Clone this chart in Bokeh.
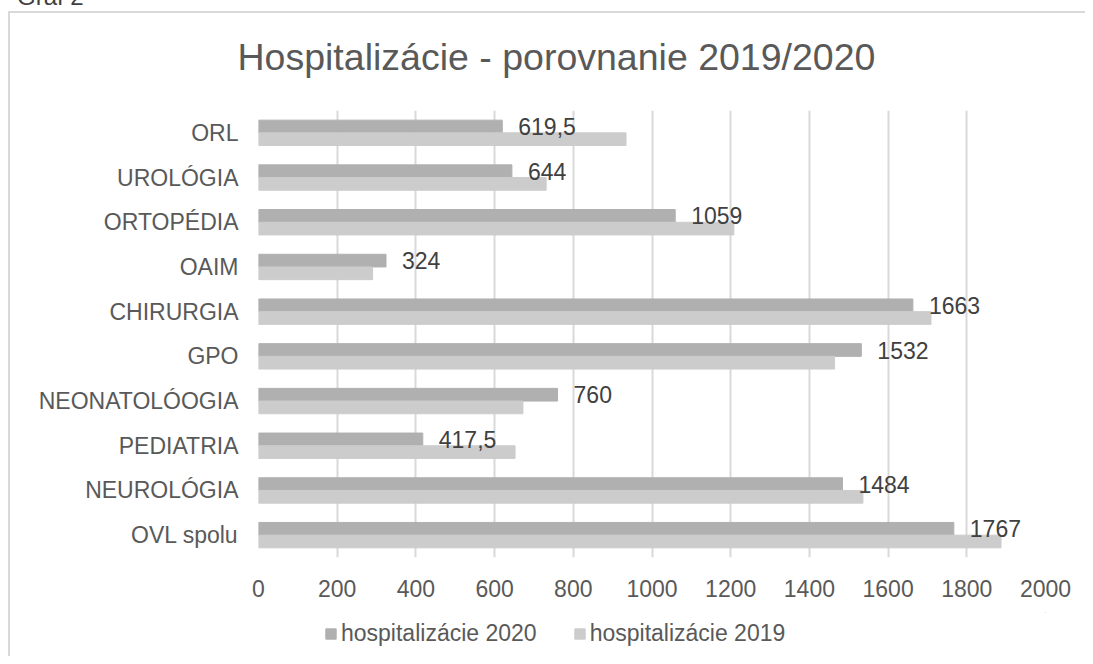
from bokeh.plotting import figure
from bokeh.models import (ColumnDataSource, Range1d, FactorRange, FixedTicker,
                          Legend, LegendItem, Div)
from bokeh.layouts import column
from bokeh.transform import dodge
from bokeh.embed import file_html
from bokeh.resources import INLINE
from bokeh.core.properties import value

# ---- data -------------------------------------------------------------
categories = ["ORL", "UROLÓGIA", "ORTOPÉDIA", "OAIM", "CHIRURGIA", "GPO",
              "NEONATOLÓOGIA", "PEDIATRIA", "NEUROLÓGIA", "OVL spolu"]
hosp_2020 = [619.5, 644, 1059, 324, 1663, 1532, 760, 417.5, 1484, 1767]
hosp_2019 = [934, 731, 1208, 290, 1709, 1464, 672, 652, 1536, 1887]
x_ticks = [0, 200, 400, 600, 800, 1000, 1200, 1400, 1600, 1800, 2000]
series_names = ["hospitalizácie 2020", "hospitalizácie 2019"]
title_text = "Hospitalizácie - porovnanie 2019/2020"
caption_text = "Graf 2"

FONT = "Liberation Sans"
TXT = "#595959"
C2020 = "#b0b0b0"
C2019 = "#cccccc"
GRID = "#d9d9d9"


def fmt(v):
    if float(v).is_integer():
        return str(int(v))
    return ("%g" % v).replace(".", ",")


src = ColumnDataSource(dict(
    cat=categories,
    v2020=hosp_2020,
    v2019=hosp_2019,
    lab=[fmt(v) for v in hosp_2020],
))

W = 1085
p = figure(width=W, height=612, output_backend="svg", toolbar_location=None,
           y_range=FactorRange(*list(reversed(categories))),
           x_range=Range1d(x_ticks[0], x_ticks[-1]),
           min_border_left=258, min_border_right=40,
           min_border_top=108, min_border_bottom=55)
p.outline_line_color = None
p.background_fill_color = "white"
p.border_fill_alpha = 0

p.title.text = title_text
p.title.align = "left"
p.title.offset = -21
p.title.text_font = FONT
p.title.text_font_size = "37.5px"
p.title.text_font_style = "normal"
p.title.text_color = TXT
p.title.standoff = 66

BAR_H = 0.284
p.hbar(y=dodge("cat", BAR_H / 2, range=p.y_range), right="v2020", left=0,
       height=BAR_H, color=C2020, source=src)
p.hbar(y=dodge("cat", -BAR_H / 2, range=p.y_range), right="v2019", left=0,
       height=BAR_H, color=C2019, source=src)

p.text(x="v2020", y=dodge("cat", BAR_H / 2, range=p.y_range), text="lab",
       source=src, x_offset=16, text_baseline="middle", text_align="left",
       text_font=value(FONT), text_font_size="23px", text_color="#404040")

# axes
p.xaxis.ticker = FixedTicker(ticks=x_ticks)
p.xgrid.ticker = FixedTicker(ticks=x_ticks)
for ax in (p.xaxis[0], p.yaxis[0]):
    ax.axis_line_color = None
    ax.major_tick_line_color = None
    ax.minor_tick_line_color = None
    ax.major_tick_out = 0
    ax.major_tick_in = 0
    ax.major_label_text_font = FONT
    ax.major_label_text_font_size = "23px"
    ax.major_label_text_color = TXT
p.xaxis.major_label_standoff = 22
p.yaxis.major_label_standoff = 20
p.xgrid.grid_line_color = GRID
p.xgrid.grid_line_width = 2
p.ygrid.grid_line_color = None

# legend strip (separate small figure so the legend is not clipped)
LH = 656 - 612
lf = figure(width=W, height=LH, output_backend="svg", toolbar_location=None,
            x_range=Range1d(0, 1), y_range=Range1d(0, 1),
            min_border=0, x_axis_location=None, y_axis_location=None)
lf.outline_line_color = None
lf.background_fill_alpha = 0
lf.border_fill_alpha = 0
lf.grid.visible = False
l20 = lf.hbar(y=[10], right=[10], left=[10], height=1, color=C2020)
l19 = lf.hbar(y=[10], right=[10], left=[10], height=1, color=C2019)
leg = Legend(items=[LegendItem(label=series_names[0], renderers=[l20]),
                    LegendItem(label=series_names[1], renderers=[l19])],
             orientation="horizontal", location=(66, 9),
             padding=0, margin=0, spacing=36, label_standoff=4,
             glyph_width=13, glyph_height=13,
             label_text_font=FONT, label_text_font_size="23px",
             label_text_color=TXT, border_line_color=None,
             background_fill_alpha=0)
lf.add_layout(leg)

cap = Div(text=('<span style="font-family:\'Liberation Sans\';font-size:24px;'
                'line-height:26px;color:#404040;white-space:nowrap">'
                + caption_text + '</span>'),
          width=200, height=26,
          styles={"position": "absolute", "top": "-21px", "left": "12px",
                  "overflow": "visible", "z-index": "5"})

layout = column(cap, p, lf, spacing=0, styles={
    "background": (
        "linear-gradient(#d9d9d9,#d9d9d9) 8px 11px / 2px 1000px no-repeat, "
        "linear-gradient(#d9d9d9,#d9d9d9) 8px 11px / 2000px 2px no-repeat, white"
    )
})

open("out.html", "w").write(file_html(layout, INLINE))
